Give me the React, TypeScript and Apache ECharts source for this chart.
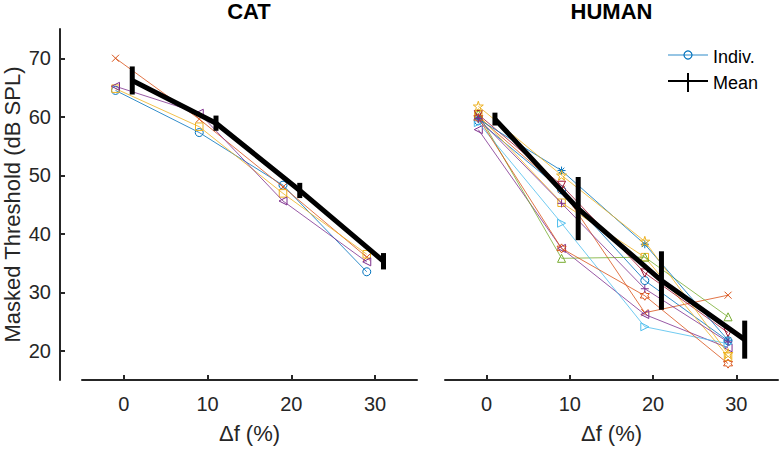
import React, { useEffect, useRef } from "react";
import * as echarts from "echarts";

// ---- data ----
const DF = [0, 10, 20, 30];
const INDIV_OFFSET = -1;
const MEAN_OFFSET = 1;

const CAT_INDIV = [
  [64.5, 57.3, 48.3, 33.5],
  [70.0, 59.6, 48.0, 36.0],
  [64.8, 58.3, 46.9, 36.5],
  [65.2, 60.6, 45.6, 35.2],
];
const CAT_MEAN = [66.2, 58.9, 47.4, 35.3];
const CAT_ERR = [2.4, 1.3, 1.3, 1.4];

const HUMAN_INDIV = [
  [59.3, 47.5, 32.0, 21.7],
  [60.0, 47.6, 26.5, 29.5],
  [60.3, 45.3, 36.0, 19.0],
  [57.8, 37.5, 26.2, 20.5],
  [60.5, 35.8, 36.0, 25.8],
  [59.0, 41.8, 24.1, 21.2],
  [60.4, 48.3, 33.3, 23.1],
  [59.6, 50.8, 38.2, 21.8],
  [59.8, 37.5, 29.4, 17.8],
  [61.8, 50.0, 38.7, 19.5],
  [59.7, 45.2, 30.6, 21.5],
];
const HUMAN_MEAN = [59.6, 44.3, 32.0, 21.9];
const HUMAN_ERR = [1.1, 5.4, 5.0, 3.25];

const Y_TICKS = [20, 30, 40, 50, 60, 70];
const X_TICKS = [0, 10, 20, 30];

// ---- styles ----
const COLORS = ["#0072BD", "#D95319", "#EDB120", "#7E2F8E", "#77AC30", "#4DBEEE", "#A2142F"];
const MARKERS: [string, number][] = [
  ["circle", 8],
  ["path://M0,0L10,10M10,0L0,10", 7],
  ["rect", 7.5],
  ["path://M0,5L10,0L10,10Z", 8],
  ["path://M5,0L10,10L0,10Z", 8],
  ["path://M10,5L0,0L0,10Z", 8],
  ["path://M0,0L10,0L5,10Z", 8],
  ["path://M5,0L5,10M0,5L10,5M1.5,1.5L8.5,8.5M8.5,1.5L1.5,8.5", 8],
  ["path://M5,0L6.443,2.5L9.33,2.5L7.887,5L9.33,7.5L6.443,7.5L5,10L3.557,7.5L0.67,7.5L2.113,5L0.67,2.5L3.557,2.5Z", 9],
  ["path://M5,0L6.123,3.455L9.755,3.455L6.817,5.59L7.939,9.045L5,6.91L2.061,9.045L3.183,5.59L0.245,3.455L3.877,3.455Z", 10],
  ["path://M5,0L5,10M0,5L10,5", 8],
];
const FONT = "'Liberation Sans', Arial, Helvetica, sans-serif";
const AX = "#262626";

function indivSeries(rows: number[][], gi: number) {
  return rows.map((row, i) => {
    const c = COLORS[i % COLORS.length];
    const [sym, size] = MARKERS[i % MARKERS.length];
    return {
      type: "line",
      xAxisIndex: gi,
      yAxisIndex: gi,
      data: row.map((v, k) => [DF[k] + INDIV_OFFSET, v]),
      symbol: sym,
      symbolSize: size,
      showAllSymbol: true,
      silent: true,
      lineStyle: { color: c, width: 1, opacity: 0.8 },
      itemStyle: { color: "rgba(0,0,0,0)", borderColor: c, borderWidth: 1 },
      z: 2 + i * 0.01,
    };
  });
}

function meanSeries(mean: number[], err: number[], gi: number) {
  return [
    {
      type: "line",
      xAxisIndex: gi,
      yAxisIndex: gi,
      data: mean.map((v, k) => [DF[k] + MEAN_OFFSET, v]),
      symbol: "none",
      silent: true,
      lineStyle: { color: "#000", width: 5, cap: "butt", join: "miter" },
      z: 5,
    },
    {
      type: "custom",
      xAxisIndex: gi,
      yAxisIndex: gi,
      silent: true,
      data: mean.map((v, k) => [DF[k] + MEAN_OFFSET, v, err[k]]),
      renderItem: (params: any, api: any) => {
        const x = api.value(0);
        const y = api.value(1);
        const e = api.value(2);
        const p1 = api.coord([x, y - e]);
        const p2 = api.coord([x, y + e]);
        return {
          type: "line",
          shape: { x1: p1[0], y1: p1[1], x2: p2[0], y2: p2[1] },
          style: { stroke: "#000", lineWidth: 5, lineCap: "butt" },
        };
      },
      z: 6,
    },
  ];
}

function xAxis(gi: number) {
  return {
    type: "value",
    gridIndex: gi,
    min: -5,
    max: 35,
    name: "\u0394f (%)",
    nameLocation: "middle",
    nameGap: 42,
    nameTextStyle: { fontFamily: FONT, fontSize: 22, color: AX },
    axisLine: { show: true, onZero: false, lineStyle: { color: AX, width: 2 } },
    axisTick: { show: true, inside: true, length: 5, customValues: X_TICKS, lineStyle: { color: AX, width: 2 } },
    axisLabel: { show: true, customValues: X_TICKS, margin: 14, fontFamily: FONT, fontSize: 20, color: AX },
    splitLine: { show: false },
  };
}

export default function App() {
  const ref = useRef<HTMLDivElement>(null);
  useEffect(() => {
    if (!ref.current) return;
    const chart = echarts.init(ref.current, undefined, { renderer: "svg" });
    const option: any = {
      animation: false,
      backgroundColor: "#fff",
      grid: [
        { left: 82, right: 363, top: 29, bottom: 65 },
        { left: 445, right: 2, top: 29, bottom: 65 },
      ],
      xAxis: [xAxis(0), xAxis(1)],
      yAxis: [
        {
          type: "value",
          gridIndex: 0,
          min: 15,
          max: 75,
          offset: 22,
          name: "Masked Threshold (dB SPL)",
          nameLocation: "middle",
          nameRotate: 90,
          nameGap: 37,
          nameTextStyle: { fontFamily: FONT, fontSize: 22, color: AX },
          axisLine: { show: true, onZero: false, lineStyle: { color: AX, width: 2 } },
          axisTick: { show: true, inside: true, length: 5, customValues: Y_TICKS, lineStyle: { color: AX, width: 2 } },
          axisLabel: { show: true, customValues: Y_TICKS, margin: 9, fontFamily: FONT, fontSize: 20, color: AX },
          splitLine: { show: false },
        },
        { type: "value", gridIndex: 1, min: 15, max: 75, show: false, splitLine: { show: false } },
      ],
      graphic: [
        { type: "text", x: 249, y: 0, style: { text: "CAT", font: `bold 22px ${FONT}`, fill: "#000", textAlign: "center", textVerticalAlign: "top" } },
        { type: "text", x: 611.5, y: 0, style: { text: "HUMAN", font: `bold 22px ${FONT}`, fill: "#000", textAlign: "center", textVerticalAlign: "top" } },
        { type: "line", shape: { x1: 668, y1: 55, x2: 708, y2: 55 }, style: { stroke: "#0072BD", opacity: 0.55, lineWidth: 1.5 } },
        { type: "circle", shape: { cx: 688, cy: 55, r: 4 }, style: { stroke: "#0072BD", fill: "none", lineWidth: 1.2 } },
        { type: "text", x: 713, y: 57, style: { text: "Indiv.", font: `18px ${FONT}`, fill: "#000", textAlign: "left", textVerticalAlign: "middle" } },
        { type: "line", shape: { x1: 668, y1: 81, x2: 708, y2: 81 }, style: { stroke: "#000", lineWidth: 2 } },
        { type: "line", shape: { x1: 688, y1: 73, x2: 688, y2: 92 }, style: { stroke: "#000", lineWidth: 2 } },
        { type: "text", x: 713, y: 83, style: { text: "Mean", font: `18px ${FONT}`, fill: "#000", textAlign: "left", textVerticalAlign: "middle" } },
      ],
      series: [
        ...indivSeries(CAT_INDIV, 0),
        ...meanSeries(CAT_MEAN, CAT_ERR, 0),
        ...indivSeries(HUMAN_INDIV, 1),
        ...meanSeries(HUMAN_MEAN, HUMAN_ERR, 1),
      ],
    };
    chart.setOption(option);
    return () => chart.dispose();
  }, []);
  return <div ref={ref} style={{ position: "fixed", left: 0, top: 0, width: 780, height: 449 }} />;
}
